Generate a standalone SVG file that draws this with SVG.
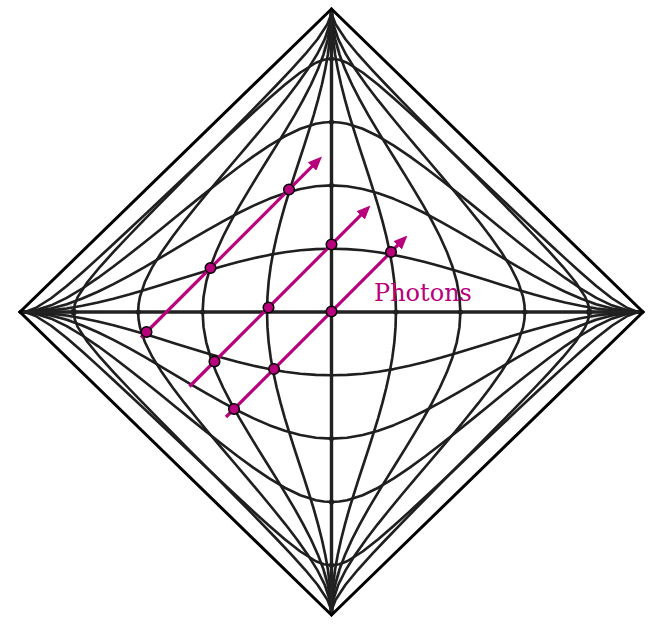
<svg xmlns="http://www.w3.org/2000/svg" width="657" height="632" viewBox="0 0 657 632">
<style>
.g{fill:none;stroke:#1f1f1f;stroke-width:8.5;stroke-linejoin:round;stroke-linecap:round}
.ax{fill:none;stroke:#222;stroke-width:3.4}
.ad{fill:#1f1f1f}
.sm{fill:#dcdcdc}
.ph{fill:none;stroke:#B8007C;stroke-width:3.2}
.pd{fill:#B8007C;stroke:#000;stroke-width:1.5}
.lbl{font-family:"DejaVu Serif","Liberation Serif",serif;font-size:24px;fill:#B8007C}
</style>
<defs>
<path id="c1" class="g" d="M0,206.9 L50,205.6 100,201.7 150,195.3 200,186.6 250,175.9 300,163.5 350,149.8 400,134.9 450,119.4 500,103.5 550,87.5 600,72 650,57.1 700,43.4 750,31 800,20.3 850,11.6 900,5.2 950,1.3 1000,0"/>
<path id="c2" class="g" d="M0,413.8 L50,410.8 100,402.1 150,388.2 200,369.8 250,347.7 300,322.7 350,295.5 400,266.8 450,237.1 500,206.9 550,176.7 600,147 650,118.3 700,91.1 750,66.1 800,44 850,25.6 900,11.7 950,3 1000,0"/>
<path id="c3" class="g" d="M0,620.7 L25,619.3 50,615 100,598.8 150,574.3 200,543.9 250,509.4 300,472.1 350,433 400,392.7 450,351.7 500,310.4 550,269 600,228 650,187.7 700,148.6 750,111.3 800,76.8 850,46.4 900,21.9 950,5.7 1000,0"/>
<path id="c4" class="g" d="M0,827.6 L25,824.1 50,814.5 100,782.7 150,742.4 200,698.3 250,652.4 300,605.5 350,557.9 400,510 450,462 500,413.8 550,365.6 600,317.6 650,269.7 700,222.2 750,175.2 800,129.3 850,85.2 900,44.9 950,13.1 975,3.5 1000,0"/>
<path id="d1" class="g" d="M206.9,0 L205.6,50 201.7,100 195.3,150 186.6,200 175.9,250 163.5,300 149.8,350 134.9,400 119.4,450 103.5,500 87.5,550 72,600 57.1,650 43.4,700 31,750 20.3,800 11.6,850 5.2,900 1.3,950 0,1000"/>
<path id="d2" class="g" d="M413.8,0 L410.8,50 402.1,100 388.2,150 369.8,200 347.7,250 322.7,300 295.5,350 266.8,400 237.1,450 206.9,500 176.7,550 147,600 118.3,650 91.1,700 66.1,750 44,800 25.6,850 11.7,900 3,950 0,1000"/>
<path id="d3" class="g" d="M620.7,0 L619.3,25 615,50 598.8,100 574.3,150 543.9,200 509.4,250 472.1,300 433,350 392.7,400 351.7,450 310.4,500 269,550 228,600 187.7,650 148.6,700 111.3,750 76.8,800 46.4,850 21.9,900 5.7,950 0,1000"/>
<path id="d4" class="g" d="M827.6,0 L824.1,25 814.5,50 782.7,100 742.4,150 698.3,200 652.4,250 605.5,300 557.9,350 510,400 462,450 413.8,500 365.6,550 317.6,600 269.7,650 222.2,700 175.2,750 129.3,800 85.2,850 44.9,900 13.1,950 3.5,975 0,1000"/>
<marker id="arr" viewBox="0 0 14 12" refX="6" refY="6" markerWidth="14" markerHeight="12" markerUnits="userSpaceOnUse" orient="auto">
<path d="M0,0 L14,6 L0,12 Z" fill="#B8007C"/>
</marker>
</defs>
<rect width="657" height="632" fill="#fff"/>
<g id="vertex-shading">
<polygon class="sm" points="331.5,12 322,52 341,52"/>
<polygon class="sm" points="331.5,612 322,572 341,572"/>
<polygon class="sm" points="23,312 72,303 72,321"/>
<polygon class="sm" points="640,312 591,303 591,321"/>
</g>
<g id="t-curves" transform="translate(331.5,312) scale(0.3115,-0.306)">
<use href="#c1"/><use href="#c1" transform="scale(-1,1)"/><use href="#c1" transform="scale(1,-1)"/><use href="#c1" transform="scale(-1,-1)"/>
<use href="#c2"/><use href="#c2" transform="scale(-1,1)"/><use href="#c2" transform="scale(1,-1)"/><use href="#c2" transform="scale(-1,-1)"/>
<use href="#c3"/><use href="#c3" transform="scale(-1,1)"/><use href="#c3" transform="scale(1,-1)"/><use href="#c3" transform="scale(-1,-1)"/>
<use href="#c4"/><use href="#c4" transform="scale(-1,1)"/><use href="#c4" transform="scale(1,-1)"/><use href="#c4" transform="scale(-1,-1)"/>
</g>
<g id="x-curves" transform="translate(331.5,312) scale(0.3115,-0.303)">
<use href="#d1"/><use href="#d1" transform="scale(-1,1)"/><use href="#d1" transform="scale(1,-1)"/><use href="#d1" transform="scale(-1,-1)"/>
<use href="#d2"/><use href="#d2" transform="scale(-1,1)"/><use href="#d2" transform="scale(1,-1)"/><use href="#d2" transform="scale(-1,-1)"/>
<use href="#d3"/><use href="#d3" transform="scale(-1,1)"/><use href="#d3" transform="scale(1,-1)"/><use href="#d3" transform="scale(-1,-1)"/>
<use href="#d4"/><use href="#d4" transform="scale(-1,1)"/><use href="#d4" transform="scale(1,-1)"/><use href="#d4" transform="scale(-1,-1)"/>
</g>
<g id="axes">
<line class="ax" x1="20" y1="312" x2="643" y2="312"/>
<line class="ax" x1="331.5" y1="9" x2="331.5" y2="615"/>
<circle class="ad" cx="331.5" cy="58.8" r="2.6"/><circle class="ad" cx="331.5" cy="122.1" r="2.6"/><circle class="ad" cx="331.5" cy="185.4" r="2.6"/>
<circle class="ad" cx="331.5" cy="438.6" r="2.6"/><circle class="ad" cx="331.5" cy="501.9" r="2.6"/><circle class="ad" cx="331.5" cy="565.2" r="2.6"/>
<circle class="ad" cx="73.7" cy="312" r="3.2"/><circle class="ad" cx="138.2" cy="312" r="2.6"/><circle class="ad" cx="202.6" cy="312" r="2.6"/>
<circle class="ad" cx="395.9" cy="312" r="2.6"/><circle class="ad" cx="460.4" cy="312" r="2.6"/><circle class="ad" cx="524.8" cy="312" r="2.6"/><circle class="ad" cx="589.3" cy="312" r="3.2"/>
</g>
<g id="boundary">
<polygon points="331.5,9 643,312 331.5,615 20,312" fill="none" stroke="#000" stroke-width="3" stroke-linejoin="miter"/>
</g>
<g id="photons">
<line class="ph" x1="141" y1="337.5" x2="316.3" y2="162.2" marker-end="url(#arr)"/>
<line class="ph" x1="189.5" y1="386.5" x2="364.8" y2="211.2" marker-end="url(#arr)"/>
<line class="ph" x1="226" y1="417" x2="401.8" y2="241.2" marker-end="url(#arr)"/>
</g>
<g id="photon-dots">
<circle class="pd" cx="146.5" cy="332" r="5.3"/>
<circle class="pd" cx="210.5" cy="268" r="5.3"/>
<circle class="pd" cx="289" cy="189.5" r="5.3"/>
<circle class="pd" cx="214.5" cy="361.5" r="5.3"/>
<circle class="pd" cx="268.5" cy="307.5" r="5.3"/>
<circle class="pd" cx="331.5" cy="244.5" r="5.3"/>
<circle class="pd" cx="234" cy="409" r="5.3"/>
<circle class="pd" cx="274" cy="369" r="5.3"/>
<circle class="pd" cx="331.5" cy="311.5" r="5.3"/>
<circle class="pd" cx="391" cy="252" r="5.3"/>
</g>
<text class="lbl" x="374" y="301">Photons</text>
</svg>
